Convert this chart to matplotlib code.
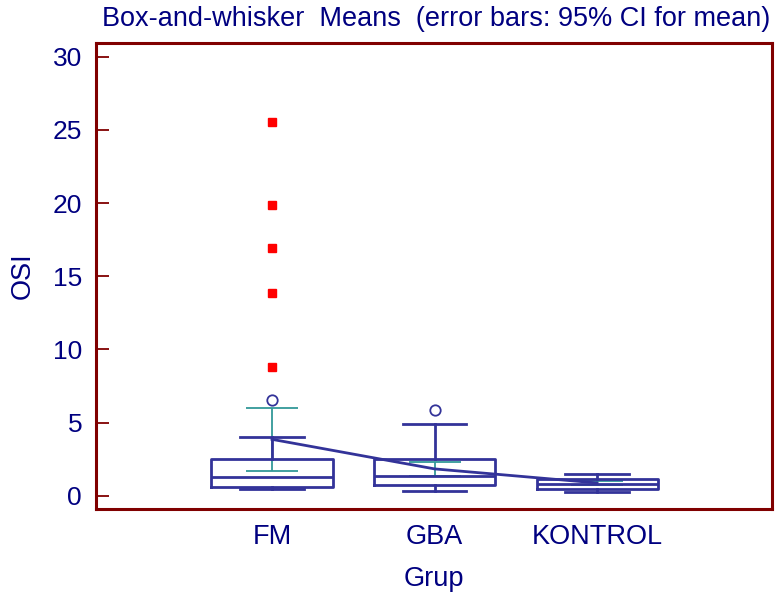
import matplotlib.pyplot as plt

plt.rcParams['font.family'] = ['Liberation Sans', 'DejaVu Sans']

# groups and summary statistics of OSI
groups = ["FM", "GBA", "KONTROL"]
q1 = [0.62, 0.71, 0.48]
median = [1.26, 1.35, 0.82]
q3 = [2.49, 2.49, 1.14]
whisker_low = [0.46, 0.34, 0.23]
whisker_high = [4.03, 4.88, 1.46]
means = [3.85, 1.83, 0.87]
ci_low = [1.69, 1.35, 0.71]
ci_high = [6.02, 2.30, 1.00]

# outside values (circle) and far-out values (red squares)
outside = [[6.54], [5.86], []]
far_out = [[25.57, 19.87, 16.91, 13.83, 8.78], [], []]

navy = "#000080"
boxcol = "#333399"
teal = "#339999"
maroon = "#800000"

fig = plt.figure(figsize=(7.79, 6.01), dpi=100)
ax = fig.add_axes([0.1232, 0.1531, 0.8678, 0.7754])

pos = [1, 2, 3]

# 95% CI error bars for the mean
ax.errorbar(pos, means, yerr=[[m - l for m, l in zip(means, ci_low)],
                              [h - m for m, h in zip(means, ci_high)]],
            fmt="none", ecolor=teal, elinewidth=1.3, capsize=18.5,
            capthick=1.3, zorder=2)

stats = []
for i in range(len(groups)):
    stats.append(dict(med=median[i], q1=q1[i], q3=q3[i],
                      whislo=whisker_low[i], whishi=whisker_high[i],
                      fliers=[], label=groups[i]))

line = dict(color=boxcol, linewidth=2)
ax.bxp(stats, positions=pos, widths=0.745, capwidths=0.39,
       showfliers=False, boxprops=line, whiskerprops=line,
       capprops=line, medianprops=line, zorder=3)

# line through the means
ax.plot(pos, means, color=boxcol, linewidth=2, zorder=4)

for p, vals in zip(pos, outside):
    ax.plot([p] * len(vals), vals, "o", mfc="white", mec=boxcol,
            ms=7.5, mew=1.3, zorder=5)
for p, vals in zip(pos, far_out):
    ax.plot([p] * len(vals), vals, "s", color="#ff0000", ms=6, zorder=5)

ax.set_xlim(-0.083, 4.076)
ax.set_ylim(-0.91, 30.94)
ax.set_yticks([0, 5, 10, 15, 20, 25, 30])
ax.set_xticks(pos)
ax.set_xticklabels(groups)

for s in ax.spines.values():
    s.set_color(maroon)
    s.set_linewidth(2.2)

ax.tick_params(axis="y", direction="in", length=9, width=1.3, color=maroon,
               labelcolor=navy, labelsize=19, pad=10)
ax.tick_params(axis="x", length=0, labelcolor=navy, labelsize=19.5, pad=11)

ax.set_ylabel("OSI", color=navy, fontsize=19.5)
ax.yaxis.set_label_coords(-0.089, 0.5)
ax.set_xlabel("Grup", color=navy, fontsize=19.5, labelpad=11)
ax.set_title("Box-and-whisker  Means  (error bars: 95% CI for mean)",
             color=navy, fontsize=19.5, pad=12, x=0.503)

fig.savefig("out.png", dpi=100)
